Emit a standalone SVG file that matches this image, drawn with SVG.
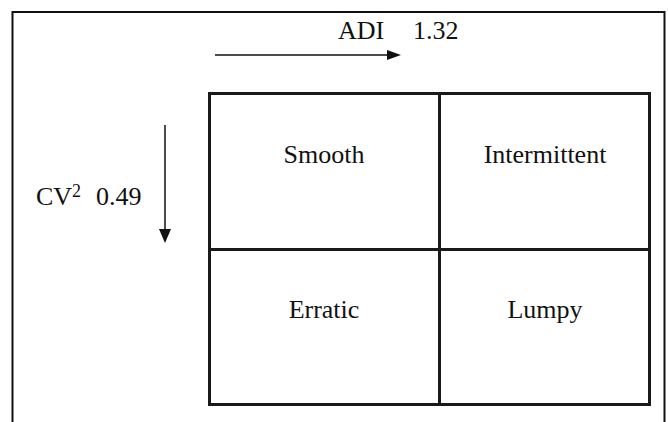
<svg xmlns="http://www.w3.org/2000/svg" width="668" height="422" viewBox="0 0 668 422">
<style>
.t{font-family:"Liberation Serif","Times New Roman",serif;font-size:26px;fill:#111}
.s{font-size:18px}
.c{text-anchor:middle}
.g{fill:none;stroke:#1a1a1a;stroke-width:3}
.f{fill:none;stroke:#111;stroke-width:2}
.a{stroke:#111;stroke-width:1.5;fill:none}
</style>
<rect width="668" height="422" fill="#fff"/>
<path class="f" d="M12.5,423 V12 H664.5 V423"/>
<g id="axes">
<g id="adi-axis">
<line class="a" x1="215" y1="55" x2="390" y2="55"/>
<polygon points="387,50 401,55 387,60" fill="#111"/>
<text class="t" x="338" y="39">ADI</text>
<text class="t" x="413" y="39">1.32</text>
</g>
<g id="cv-axis">
<line class="a" x1="165" y1="125" x2="165" y2="232"/>
<polygon points="159,229 171,229 165,243" fill="#111"/>
<text class="t" x="36" y="205">CV</text>
<text class="t s" x="72" y="197">2</text>
<text class="t" x="96" y="205">0.49</text>
</g>
</g>
<g id="grid">
<rect class="g" x="209.5" y="93.5" width="440" height="311"/>
<line class="g" x1="439.5" y1="93.5" x2="439.5" y2="404.5"/>
<line class="g" x1="209.5" y1="249.5" x2="649.5" y2="249.5"/>
</g>
<g id="smooth"><text class="t c" x="324" y="163">Smooth</text></g>
<g id="intermittent"><text class="t c" x="545" y="163">Intermittent</text></g>
<g id="erratic"><text class="t c" x="324" y="318">Erratic</text></g>
<g id="lumpy"><text class="t c" x="545" y="318">Lumpy</text></g>
</svg>
